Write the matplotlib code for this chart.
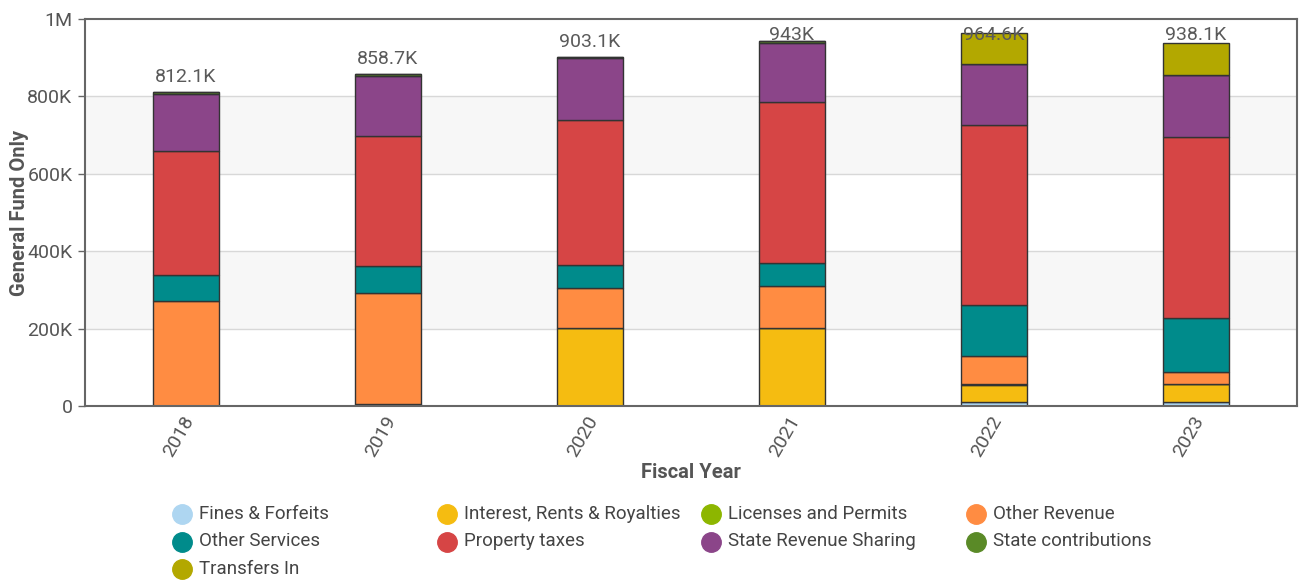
import matplotlib
matplotlib.use("Agg")
import matplotlib.pyplot as plt
import matplotlib.transforms as mtransforms
import numpy as np
from matplotlib.lines import Line2D

plt.rcParams['font.family'] = ['Roboto', 'DejaVu Sans']

years = ["2018", "2019", "2020", "2021", "2022", "2023"]
categories = ["Fines & Forfeits", "Interest, Rents & Royalties", "Licenses and Permits",
              "Other Revenue", "Other Services", "Property taxes",
              "State Revenue Sharing", "State contributions", "Transfers In"]
# values in thousands
fines = [0, 0, 0, 0, 10, 10]
interest = [1.1, 5, 202, 202, 44, 46]
licenses = [0, 0, 0, 0, 3, 0]
other_revenue = [271, 288, 103, 107, 72, 33]
other_services = [66, 69, 59, 61, 132, 138]
property_taxes = [322, 336, 375, 415.5, 465, 468]
state_rev_sharing = [146, 155, 159, 151.5, 157, 160]
state_contrib = [6, 5.7, 5.1, 6, 0, 0]
transfers_in = [0, 0, 0, 0, 81.6, 83.1]
totals = [812.1, 858.7, 903.1, 943, 964.6, 938.1]
total_labels = ["812.1K", "858.7K", "903.1K", "943K", "964.6K", "938.1K"]

series = [fines, interest, licenses, other_revenue, other_services, property_taxes,
          state_rev_sharing, state_contrib, transfers_in]
colors = ["#aed6f1", "#f5bc11", "#8db600", "#ff8c42", "#008b8b", "#d64545",
          "#8b4589", "#5a8a27", "#b3a800"]

W, H = 1300, 581
fig = plt.figure(figsize=(W / 100, H / 100), dpi=100)
ax = fig.add_axes([85 / W, 1 - 406 / H, (1297 - 85) / W, (406 - 19) / H])

x = np.arange(len(years))
ax.set_xlim(-0.5, len(years) - 0.5)
ax.set_ylim(0, 1000)

# alternating bands
for lo in (200, 600):
    ax.axhspan(lo, lo + 200, color="#f7f7f7", zorder=0, lw=0)
for g in (200, 400, 600, 800):
    ax.axhline(g, color="#d8d8d8", lw=1, zorder=0.5)

bottom = np.zeros(len(years))
for vals, col in zip(series, colors):
    v = np.array(vals, dtype=float)
    ax.bar(x, v, width=0.33, bottom=bottom, color=col, edgecolor="#333333",
           linewidth=1, zorder=2)
    bottom += v

# total labels (kept inside plot area when they would overflow)
fig.canvas.draw()
for xi, tot, lab in zip(x, totals, total_labels):
    px = ax.transData.transform((xi, tot))
    top_from_top = H - px[1]
    center = top_from_top - 15
    if center - 8 < 21:
        center = 34.5
    ydata = ax.transData.inverted().transform((px[0], H - center))[1]
    ax.text(xi, ydata, lab, ha="center", va="center", fontsize=14,
            color="#5a5a5a", zorder=5)

for s in ax.spines.values():
    s.set_color("#666666")
    s.set_linewidth(1.5)

ax.set_yticks([0, 200, 400, 600, 800, 1000])
ax.set_yticklabels(["0", "200K", "400K", "600K", "800K", "1M"])
ax.set_xticks(x)
ax.set_xticklabels(years, rotation=60, ha="right", va="top", rotation_mode="anchor")
ax.tick_params(axis="both", colors="#666666", labelcolor="#555555", labelsize=14)
ax.tick_params(axis="y", length=5, width=1, pad=4)
ax.tick_params(axis="x", length=0, pad=5)
shift = mtransforms.ScaledTranslation(-4 / 100, 0, fig.dpi_scale_trans)
for lbl in ax.get_xticklabels():
    lbl.set_transform(lbl.get_transform() + shift)

ax.set_xlabel("Fiscal Year", fontsize=14.5, fontweight="bold", color="#555555", labelpad=2)
ax.set_ylabel("General Fund Only", fontsize=14.5, fontweight="bold", color="#555555")
ax.yaxis.set_label_coords((29 - 85) / (1297 - 85), 0.5)

# legend laid out row-major in 4 columns
for i, (cat, c) in enumerate(zip(categories, colors)):
    col, row = i % 4, i // 4
    mx = 182 + 264.7 * col
    my = 514 + 27.5 * row
    fig.add_artist(Line2D([mx / W], [1 - my / H], marker="o", markersize=14,
                          markerfacecolor=c, markeredgecolor=c, linestyle="",
                          transform=fig.transFigure))
    fig.text((mx + 17) / W, 1 - my / H, cat, ha="left", va="center",
             fontsize=13.5, color="#444444")

fig.savefig("out.png", dpi=100)
